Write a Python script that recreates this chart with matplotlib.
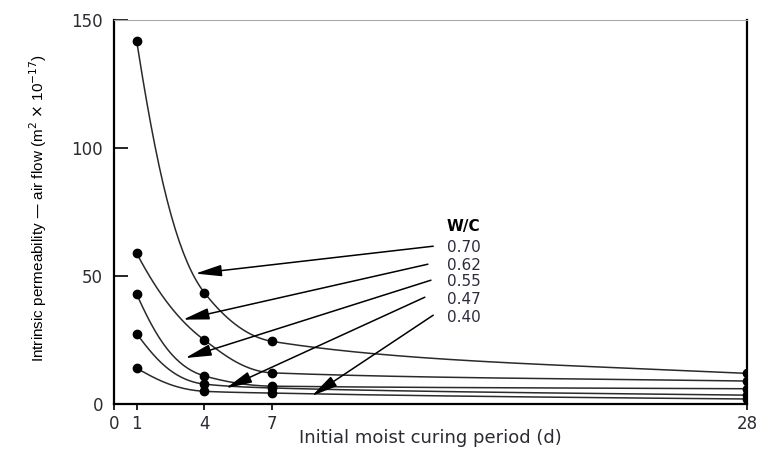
import numpy as np
import matplotlib
matplotlib.use("Agg")
import matplotlib.pyplot as plt

plt.rcParams['font.family'] = ['DejaVu Sans']

# curing period (days) and permeability per w/c ratio (m2 x 10^-17)
days = [1, 4, 7, 28]
wc_labels = ['0.70', '0.62', '0.55', '0.47', '0.40']
perm_070 = [142, 43.5, 24.5, 12]
perm_062 = [59, 25, 12.2, 9]
perm_055 = [43, 11, 7, 6]
perm_047 = [27.5, 7.8, 6.3, 3.5]
perm_040 = [14, 5, 4.3, 2]
series = [perm_070, perm_062, perm_055, perm_047, perm_040]

# arrow tip positions on the curves (data coords)
arrow_tips = [(3.6, 51), (3.05, 33), (3.15, 18), (4.95, 6.2), (8.75, 3.2)]


def smooth(x, y, n=300):
    # monotone cubic (Fritsch-Carlson) on log(y), only used to draw the line
    lx, ly = x, np.log(y)
    h = np.diff(lx)
    d = np.diff(ly) / h
    m = np.zeros(len(lx))
    m[0], m[-1] = d[0], d[-1]
    for i in range(1, len(lx) - 1):
        m[i] = 0 if d[i-1] * d[i] <= 0 else 2 / (1/d[i-1] + 1/d[i])
    xs = np.linspace(lx[0], lx[-1], n)
    ys = np.empty_like(xs)
    for j, xv in enumerate(xs):
        i = min(np.searchsorted(lx, xv, side='right') - 1, len(lx) - 2)
        t = (xv - lx[i]) / h[i]
        h00 = 2*t**3 - 3*t**2 + 1
        h10 = t**3 - 2*t**2 + t
        h01 = -2*t**3 + 3*t**2
        h11 = t**3 - t**2
        ys[j] = h00*ly[i] + h10*h[i]*m[i] + h01*ly[i+1] + h11*h[i]*m[i+1]
    return xs, np.exp(ys)


fig = plt.figure(figsize=(7.6, 4.49), dpi=100)
ax = fig.add_axes([0.15, 0.1, 0.833, 0.855])

for vals in series:
    sx, sy = smooth(np.array(days, float), np.array(vals, float))
    ax.plot(sx, sy, color='#2a2a2a', lw=1.1)
    ax.plot(days, vals, 'o', color='black', ms=6)

ax.set_xlim(0, 28)
ax.set_ylim(0, 150)
ax.set_xticks([0, 1, 4, 7, 28])
ax.set_yticks([0, 50, 100, 150])
ax.tick_params(axis='y', direction='in', length=10, width=1.2, labelsize=12,
               colors='black', labelcolor='#2b2b33', pad=8)
ax.tick_params(axis='x', direction='out', length=4, width=1.2, labelsize=12,
               labelcolor='#2b2b33', pad=4)

for s in ['left', 'bottom', 'right']:
    ax.spines[s].set_linewidth(1.6)
ax.spines['top'].set_color('#aaaaaa')
ax.spines['top'].set_linewidth(0.8)

fig.text(0.566, 1 - 438/449, 'Initial moist curing period (d)', fontsize=13,
         color='#2b2b33', ha='center', va='center')
fig.text(0.05, 1 - 208/449,
         r'Intrinsic permeability — air flow (m$^2$ $\times$ 10$^{-17}$)',
         family=['Liberation Sans', 'DejaVu Sans'],
         fontsize=11, color='black', rotation=90, ha='center', va='center')

# W/C legend with arrows
fig.text(0.588, 1 - 227/449, 'W/C', fontsize=11, fontweight='bold', color='black',
         ha='left', va='center')
label_y = [248, 266, 282, 299, 317]
tail_x = [0.570, 0.563, 0.567, 0.559, 0.570]
for lab, py, tx, tip in zip(wc_labels, label_y, tail_x, arrow_tips):
    ly = 1 - py / 449
    fig.text(0.588, ly, lab, fontsize=11, color='#2b2b40', ha='left', va='center')
    ax.annotate('', xy=tip, xycoords='data',
                xytext=(tx, ly + 0.004), textcoords='figure fraction',
                arrowprops=dict(arrowstyle='-|>,head_length=1.6,head_width=0.35',
                                color='black', lw=1.1, shrinkA=0, shrinkB=0))

fig.savefig('out.png', dpi=100)
